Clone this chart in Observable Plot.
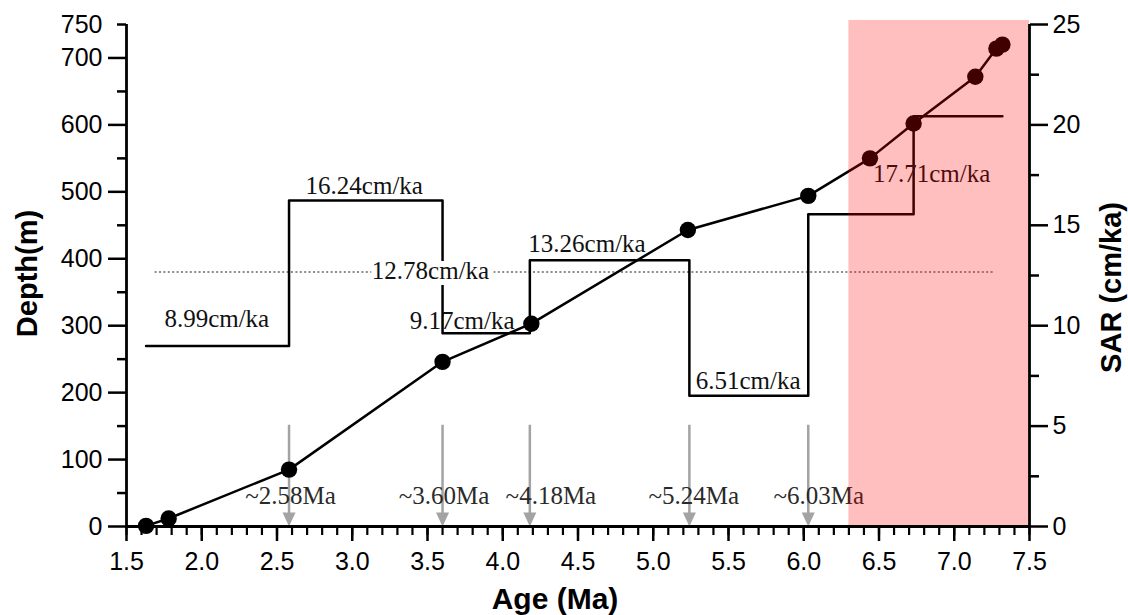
<!DOCTYPE html>
<html><head><meta charset="utf-8">
<script src="https://cdn.jsdelivr.net/npm/d3@7"></script>
<script src="https://cdn.jsdelivr.net/npm/@observablehq/plot@0.6"></script>
<style>body{margin:0;background:#fff}</style>
</head><body><div id="chart"></div>
<script>
// Age-depth control points
const ages = [1.63, 1.78, 2.58, 3.60, 4.19, 5.23, 6.03, 6.44, 6.73, 7.14, 7.28, 7.32];
const depths = [1, 12, 85, 246, 303, 443, 494, 550, 602, 672, 714, 720];

// SAR step series (cm/ka), breakpoints in Ma
const stepAges = [1.63, 2.58, 3.60, 4.18, 5.24, 6.03, 6.73, 7.32];
const stepSAR = [8.99, 16.24, 9.62, 13.26, 6.51, 15.55, 20.43, 20.43];

// Mean SAR dotted line
const meanSAR = 12.67;
const meanAgeRange = [1.69, 7.26];

// Rate labels
const rateLabels = ["8.99cm/ka", "16.24cm/ka", "12.78cm/ka", "9.17cm/ka", "13.26cm/ka", "6.51cm/ka", "17.71cm/ka"];
const rateLabelAges = [2.10, 3.08, 3.52, 3.73, 4.56, 5.63, 6.85];
const rateLabelSAR = [9.96, 16.57, 12.35, 9.83, 13.66, 6.86, 17.15];
const rateLabelHalo = [false, false, true, false, false, false, false];

// Boundary arrows
const boundaryAges = [2.58, 3.60, 4.18, 5.24, 6.03];
const boundaryLabels = ["~2.58Ma", "~3.60Ma", "~4.18Ma", "~5.24Ma", "~6.03Ma"];
const boundaryLabelAges = [2.59, 3.61, 4.32, 5.27, 6.10];
const boundaryLabelDepth = 33;
const arrowTopDepth = 152;
const arrowShaftEndDepth = 20;

// Shaded band
const bandAges = [6.30, 7.5];
const bandDepthTop = 756;

// Scales / ticks
const xDomain = [1.5, 7.5];
const depthDomain = [0, 750];
const sarMax = 25;
const xMajor = [1.5, 2.0, 2.5, 3.0, 3.5, 4.0, 4.5, 5.0, 5.5, 6.0, 6.5, 7.0, 7.5];
const xMinor = d3.range(15, 76).map(v => v / 10);
const depthMajor = [0, 100, 200, 300, 400, 500, 600, 700];
const depthMinor = [50, 150, 250, 350, 450, 550, 650, 750];
const depthTopLabel = [750];
const sarMajor = [0, 5, 10, 15, 20, 25];
const sarMinor = [2.5, 7.5, 12.5, 17.5, 22.5];

const k = depthDomain[1] / sarMax; // depth units per SAR unit

const points = ages.map((a, i) => ({age: a, depth: depths[i]}));
const steps = stepAges.map((a, i) => ({age: a, v: stepSAR[i] * k}));
const rates = rateLabels.map((t, i) => ({t, age: rateLabelAges[i], v: rateLabelSAR[i] * k, halo: rateLabelHalo[i]}));
const bounds = boundaryAges.map((a, i) => ({age: a, label: boundaryLabels[i], lx: boundaryLabelAges[i]}));

const downTri = {draw(ctx, size) {
  const r = Math.sqrt(size / Math.PI);
  ctx.moveTo(-1.3 * r, -2.8 * r);
  ctx.lineTo(1.3 * r, -2.8 * r);
  ctx.lineTo(0, 0);
  ctx.closePath();
}};

const sans = "Liberation Sans, Arial, sans-serif";
const serif = "Liberation Serif, Times New Roman, serif";
const gray = "#a3a3a3";

const chart = Plot.plot({
  width: 1128,
  height: 615,
  marginTop: 24,
  marginBottom: 89,
  marginLeft: 126,
  marginRight: 99,
  x: {domain: xDomain},
  y: {domain: depthDomain},
  style: {background: "white"},
  marks: [
    // mean SAR dotted line
    Plot.ruleY([meanSAR * k], {x1: meanAgeRange[0], x2: meanAgeRange[1], stroke: "#8c8c8c", strokeWidth: 2, strokeDasharray: "2,2.4"}),
    // SAR step line
    Plot.line(steps, {x: "age", y: "v", curve: "step-after", stroke: "black", strokeWidth: 2.5}),
    // boundary arrows
    Plot.link(bounds, {x1: "age", x2: "age", y1: arrowTopDepth, y2: arrowShaftEndDepth, stroke: gray, strokeWidth: 2.5}),
    Plot.dot(bounds, {x: "age", y: 0, symbol: downTri, r: 5, fill: gray, stroke: "none"}),
    // age-depth line and points
    Plot.line(points, {x: "age", y: "depth", stroke: "black", strokeWidth: 2.5}),
    Plot.dot(points, {x: "age", y: "depth", r: 8.2, fill: "black", stroke: "none"}),
    // rate labels
    Plot.text(rates.filter(d => d.halo), {x: "age", y: "v", text: "t", lineAnchor: "bottom", textAnchor: "middle",
      fontFamily: serif, fontSize: 25, fill: "#111", stroke: "white", strokeWidth: 12}),
    Plot.text(rates.filter(d => !d.halo), {x: "age", y: "v", text: "t", lineAnchor: "bottom", textAnchor: "middle",
      fontFamily: serif, fontSize: 25, fill: "#111"}),
    // boundary labels
    Plot.text(bounds, {x: "lx", y: boundaryLabelDepth, text: "label", lineAnchor: "bottom", textAnchor: "middle",
      fontFamily: serif, fontSize: 25, fill: "#2a2a2a"}),
    // shaded band
    Plot.rect([bandAges], {x1: d => d[0], x2: d => d[1], y1: 0, y2: bandDepthTop, fill: "#ff0000", fillOpacity: 0.25}),
    // axis lines
    Plot.ruleX([xDomain[0], xDomain[1]], {y1: depthDomain[0], y2: depthDomain[1], stroke: "black", strokeWidth: 2.8}),
    Plot.ruleY([depthDomain[0]], {x1: xDomain[0], x2: xDomain[1], stroke: "black", strokeWidth: 2.8}),
    // x axis
    Plot.axisX(xMajor, {tickSize: 15, tickPadding: 11, tickFormat: d => d.toFixed(1), fontSize: 25, fontFamily: sans, fill: "black", strokeWidth: 2.5, label: null}),
    Plot.axisX(xMinor, {tickSize: 9, tickFormat: () => "", strokeWidth: 2.2, label: null}),
    // left y axis
    Plot.axisY(depthMajor, {tickSize: 18, tickPadding: 6, fontSize: 25, fontFamily: sans, fill: "black", strokeWidth: 2.5, label: null}),
    Plot.axisY(depthMinor, {tickSize: 9, tickFormat: () => "", strokeWidth: 2.5, label: null}),
    Plot.axisY(depthTopLabel, {tickSize: 0, tickPadding: 24, fontSize: 25, fontFamily: sans, fill: "black", label: null}),
    // right y axis (SAR)
    Plot.axisY(sarMajor.map(v => v * k), {anchor: "right", tickSize: 18, tickPadding: 5, tickFormat: d => String(d / k), fontSize: 25, fontFamily: sans, fill: "black", strokeWidth: 2.5, label: null}),
    Plot.axisY(sarMinor.map(v => v * k), {anchor: "right", tickSize: 9, tickFormat: () => "", strokeWidth: 2.5, label: null}),
    // axis titles
    Plot.text(["Age (Ma)"], {frameAnchor: "bottom", dy: 82, dx: -23, textAnchor: "middle", lineAnchor: "bottom", fontFamily: sans, fontWeight: "bold", fontSize: 30, fill: "black"}),
    Plot.text(["Depth(m)"], {frameAnchor: "left", dx: -99, dy: -2, rotate: -90, textAnchor: "middle", lineAnchor: "middle", fontFamily: sans, fontWeight: "bold", fontSize: 29, fill: "black"}),
    Plot.text(["SAR (cm/ka)"], {frameAnchor: "right", dx: 82, dy: 12, rotate: -90, textAnchor: "middle", lineAnchor: "middle", fontFamily: sans, fontWeight: "bold", fontSize: 29, fill: "black"})
  ]
});
document.getElementById("chart").appendChild(chart);
</script>
</body></html>
